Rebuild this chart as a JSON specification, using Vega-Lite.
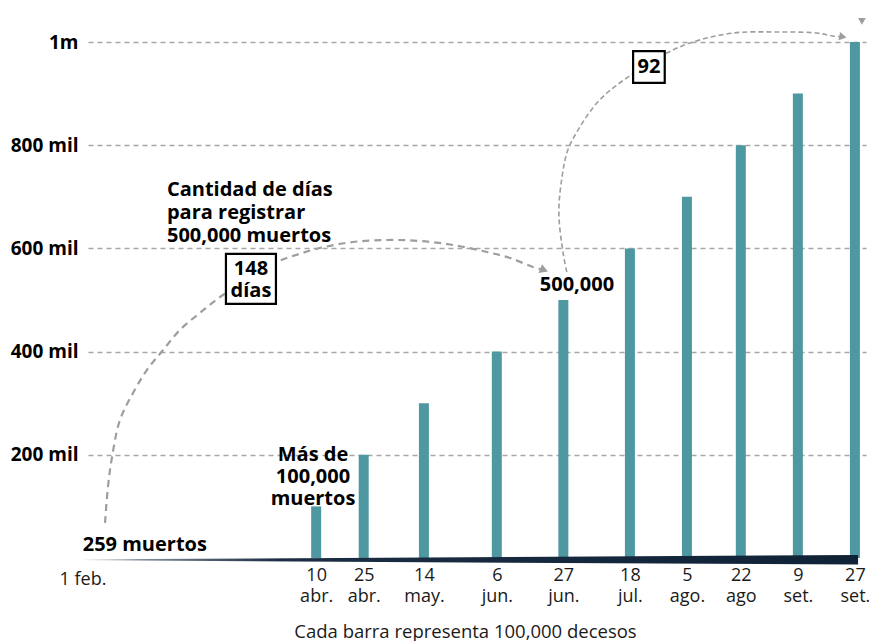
{
  "$schema": "https://vega.github.io/schema/vega-lite/v6.json",
  "width": 778,
  "height": 516,
  "autosize": "none",
  "padding": {"left": 88, "top": 42, "right": 3, "bottom": 83},
  "background": "white",
  "config": {"view": {"stroke": null}, "font": "Open Sans"},
  "datasets": {
    "bars": [
      {"date": "2020-04-10", "value": 100000},
      {"date": "2020-04-25", "value": 200000},
      {"date": "2020-05-14", "value": 300000},
      {"date": "2020-06-06", "value": 400000},
      {"date": "2020-06-27", "value": 500000},
      {"date": "2020-07-18", "value": 600000},
      {"date": "2020-08-05", "value": 700000},
      {"date": "2020-08-22", "value": 800000},
      {"date": "2020-09-09", "value": 900000},
      {"date": "2020-09-27", "value": 1000000}
    ],
    "wedge": [
      {"date": "2020-01-28", "top": -2600, "bottom": -4600},
      {"date": "2020-09-28", "top": 5800, "bottom": -12600}
    ],
    "arc1": [
      {"i": 1, "date": "2020-02-03T09:00:00Z", "value": 68000},
      {"i": 2, "date": "2020-02-04T07:00:00Z", "value": 137600},
      {"i": 3, "date": "2020-02-05T14:00:00Z", "value": 195700},
      {"i": 4, "date": "2020-02-08T02:00:00Z", "value": 267400},
      {"i": 5, "date": "2020-02-12T05:00:00Z", "value": 319800},
      {"i": 6, "date": "2020-02-16T14:00:00Z", "value": 364300},
      {"i": 7, "date": "2020-02-21T17:00:00Z", "value": 403100},
      {"i": 8, "date": "2020-02-27T00:00:00Z", "value": 441900},
      {"i": 9, "date": "2020-03-04T07:00:00Z", "value": 474800},
      {"i": 10, "date": "2020-03-11T14:00:00Z", "value": 509700},
      {"i": 11, "date": "2020-03-28T14:00:00Z", "value": 573600},
      {"i": 12, "date": "2020-04-01T17:00:00Z", "value": 583300},
      {"i": 13, "date": "2020-04-11T05:00:00Z", "value": 600800},
      {"i": 14, "date": "2020-04-21T14:00:00Z", "value": 612400},
      {"i": 15, "date": "2020-05-02T07:00:00Z", "value": 616300},
      {"i": 16, "date": "2020-05-12T17:00:00Z", "value": 614400},
      {"i": 17, "date": "2020-05-23T05:00:00Z", "value": 606600},
      {"i": 18, "date": "2020-06-02T22:00:00Z", "value": 593000},
      {"i": 19, "date": "2020-06-10T05:00:00Z", "value": 581400},
      {"i": 20, "date": "2020-06-17T10:00:00Z", "value": 563900},
      {"i": 21, "date": "2020-06-20T12:00:00Z", "value": 558500}
    ],
    "arc2": [
      {"i": 1, "date": "2020-06-28T02:00:00Z", "value": 554300},
      {"i": 2, "date": "2020-06-26T22:00:00Z", "value": 591100},
      {"i": 3, "date": "2020-06-25T14:00:00Z", "value": 668600},
      {"i": 4, "date": "2020-06-26T14:00:00Z", "value": 738400},
      {"i": 5, "date": "2020-06-28T10:00:00Z", "value": 790700},
      {"i": 6, "date": "2020-07-02T05:00:00Z", "value": 835300},
      {"i": 7, "date": "2020-07-07T14:00:00Z", "value": 881800},
      {"i": 8, "date": "2020-07-13T22:00:00Z", "value": 916700},
      {"i": 9, "date": "2020-07-29T17:00:00Z", "value": 978700},
      {"i": 10, "date": "2020-08-06T22:00:00Z", "value": 1000000},
      {"i": 11, "date": "2020-08-19T12:00:00Z", "value": 1017400},
      {"i": 12, "date": "2020-09-02T10:00:00Z", "value": 1019400},
      {"i": 13, "date": "2020-09-15T00:00:00Z", "value": 1017400},
      {"i": 14, "date": "2020-09-20T00:00:00Z", "value": 1011600},
      {"i": 15, "date": "2020-09-23T05:00:00Z", "value": 1010000}
    ],
    "arrow1": [{"date": "2020-06-20T22:00:00Z", "value": 558000}],
    "arrow2": [{"date": "2020-09-23T05:00:00Z", "value": 1010000}],
    "arrow3": [{"date": "2020-09-29T05:00:00Z", "value": 1040000}],
    "bigbox": [{"date": "2020-03-20T10:00:00Z", "value": 541000}],
    "smallbox": [{"date": "2020-07-24T00:00:00Z", "value": 951600}],
    "leftText": [
      {"date": "2020-01-27T08:00:00Z", "value": 25200, "label": "259 muertos"},
      {"date": "2020-02-22T22:00:00Z", "value": 713200, "label": "Cantidad de días\npara registrar\n500,000 muertos"}
    ],
    "centerText": [
      {"date": "2020-04-09T00:00:00Z", "value": 199600, "label": "Más de\n100,000\nmuertos"},
      {"date": "2020-03-20T10:00:00Z", "value": 561000, "label": "148\ndías"},
      {"date": "2020-07-01T07:00:00Z", "value": 530000, "label": "500,000"},
      {"date": "2020-07-24T00:00:00Z", "value": 951600, "label": "92"}
    ],
    "startText": [
      {"date": "2020-01-27T10:00:00Z", "value": -42600, "label": "1 feb."}
    ]
  },
  "layer": [
    {
      "data": {"name": "bars"},
      "mark": {"type": "bar", "width": 10, "color": "#4e99a1"},
      "encoding": {
        "x": {
          "field": "date",
          "type": "temporal",
          "scale": {
            "type": "utc",
            "nice": false,
            "padding": 0,
            "domain": [
              {"year": 2020, "month": 1, "date": 29, "utc": true},
              {"year": 2020, "month": 9, "date": 30, "hours": 12, "utc": true}
            ]
          },
          "axis": {
            "values": [
              {"year": 2020, "month": 4, "date": 10, "utc": true},
              {"year": 2020, "month": 4, "date": 25, "utc": true},
              {"year": 2020, "month": 5, "date": 14, "utc": true},
              {"year": 2020, "month": 6, "date": 6, "utc": true},
              {"year": 2020, "month": 6, "date": 27, "utc": true},
              {"year": 2020, "month": 7, "date": 18, "utc": true},
              {"year": 2020, "month": 8, "date": 5, "utc": true},
              {"year": 2020, "month": 8, "date": 22, "utc": true},
              {"year": 2020, "month": 9, "date": 9, "utc": true},
              {"year": 2020, "month": 9, "date": 27, "utc": true}
            ],
            "labelExpr": "[utcdate(datum.value) + '', (utcmonth(datum.value) == 7 && utcdate(datum.value) == 22) ? 'ago' : ['ene.','feb.','mar.','abr.','may.','jun.','jul.','ago.','set.','oct.'][utcmonth(datum.value)]]",
            "labelFontSize": 18,
            "labelColor": "#1a1a1a",
            "labelLineHeight": 21,
            "labelPadding": 8,
            "labelFlush": false,
            "labelOverlap": false,
            "labelBound": false,
            "domain": false,
            "ticks": false,
            "grid": false,
            "title": "Cada barra representa 100,000 decesos",
            "titleFontSize": 18.5,
            "titleFontWeight": "normal",
            "titleColor": "#1a1a1a",
            "titleX": 377,
            "titleY": 73,
            "titleAlign": "center",
            "titleBaseline": "middle"
          }
        },
        "y": {
          "field": "value",
          "type": "quantitative",
          "scale": {"domain": [0, 1000000], "nice": false, "zero": false},
          "axis": {
            "values": [200000, 400000, 600000, 800000, 1000000],
            "labelExpr": "datum.value >= 1000000 ? '1m' : format(datum.value / 1000, 'd') + ' mil'",
            "labelFontSize": 19,
            "labelFontWeight": "bold",
            "labelColor": "#000000",
            "labelPadding": 10,
            "labelBaseline": "middle",
            "domain": false,
            "ticks": false,
            "grid": true,
            "gridDash": [5, 4],
            "gridColor": "#a6a6a6",
            "gridWidth": 1.5,
            "title": null
          }
        }
      }
    },
    {
      "data": {"name": "wedge"},
      "mark": {
        "type": "area",
        "fill": {
          "gradient": "linear",
          "x1": 0, "y1": 0, "x2": 1, "y2": 0,
          "stops": [
            {"offset": 0, "color": "#f2f4f6"},
            {"offset": 0.08, "color": "#7d8996"},
            {"offset": 0.25, "color": "#1b2d43"},
            {"offset": 1, "color": "#0f2236"}
          ]
        }
      },
      "encoding": {
        "x": {"field": "date", "type": "temporal"},
        "y": {"field": "top", "type": "quantitative"},
        "y2": {"field": "bottom"}
      }
    },
    {
      "data": {"name": "arc1"},
      "mark": {"type": "line", "interpolate": "catmull-rom", "color": "#9e9e9e", "strokeWidth": 2.2, "strokeDash": [7, 5]},
      "encoding": {
        "x": {"field": "date", "type": "temporal"},
        "y": {"field": "value", "type": "quantitative"},
        "order": {"field": "i", "type": "quantitative"}
      }
    },
    {
      "data": {"name": "arc2"},
      "mark": {"type": "line", "interpolate": "catmull-rom", "color": "#9e9e9e", "strokeWidth": 1.6, "strokeDash": [5, 3]},
      "encoding": {
        "x": {"field": "date", "type": "temporal"},
        "y": {"field": "value", "type": "quantitative"},
        "order": {"field": "i", "type": "quantitative"}
      }
    },
    {
      "data": {"name": "arrow1"},
      "mark": {"type": "point", "shape": "triangle-right", "angle": 22, "size": 90, "filled": true, "color": "#9e9e9e", "opacity": 1},
      "encoding": {
        "x": {"field": "date", "type": "temporal"},
        "y": {"field": "value", "type": "quantitative"}
      }
    },
    {
      "data": {"name": "arrow2"},
      "mark": {"type": "point", "shape": "triangle-right", "angle": 10, "size": 70, "filled": true, "color": "#9e9e9e", "opacity": 1},
      "encoding": {
        "x": {"field": "date", "type": "temporal"},
        "y": {"field": "value", "type": "quantitative"}
      }
    },
    {
      "data": {"name": "arrow3"},
      "mark": {"type": "point", "shape": "triangle-down", "size": 60, "filled": true, "color": "#9e9e9e", "opacity": 1},
      "encoding": {
        "x": {"field": "date", "type": "temporal"},
        "y": {"field": "value", "type": "quantitative"}
      }
    },
    {
      "data": {"name": "bigbox"},
      "mark": {"type": "point", "shape": "square", "size": 2500, "filled": true, "fill": "white", "stroke": "black", "strokeWidth": 2.2, "opacity": 1},
      "encoding": {
        "x": {"field": "date", "type": "temporal"},
        "y": {"field": "value", "type": "quantitative"}
      }
    },
    {
      "data": {"name": "smallbox"},
      "mark": {"type": "point", "shape": "square", "size": 1000, "filled": true, "fill": "white", "stroke": "black", "strokeWidth": 2.2, "opacity": 1},
      "encoding": {
        "x": {"field": "date", "type": "temporal"},
        "y": {"field": "value", "type": "quantitative"}
      }
    },
    {
      "data": {"name": "leftText"},
      "mark": {"type": "text", "align": "left", "baseline": "middle", "lineBreak": "\n", "lineHeight": 23, "fontSize": 20, "fontWeight": "bold", "color": "#000000"},
      "encoding": {
        "x": {"field": "date", "type": "temporal"},
        "y": {"field": "value", "type": "quantitative"},
        "text": {"field": "label", "type": "nominal"}
      }
    },
    {
      "data": {"name": "centerText"},
      "mark": {"type": "text", "align": "center", "baseline": "middle", "lineBreak": "\n", "lineHeight": 22, "fontSize": 20, "fontWeight": "bold", "color": "#000000"},
      "encoding": {
        "x": {"field": "date", "type": "temporal"},
        "y": {"field": "value", "type": "quantitative"},
        "text": {"field": "label", "type": "nominal"}
      }
    },
    {
      "data": {"name": "startText"},
      "mark": {"type": "text", "align": "center", "baseline": "middle", "fontSize": 18, "fontWeight": "normal", "color": "#1a1a1a"},
      "encoding": {
        "x": {"field": "date", "type": "temporal"},
        "y": {"field": "value", "type": "quantitative"},
        "text": {"field": "label", "type": "nominal"}
      }
    }
  ]
}
